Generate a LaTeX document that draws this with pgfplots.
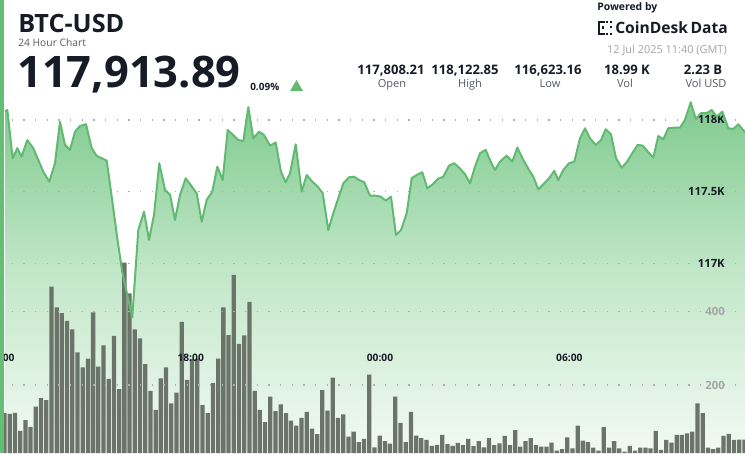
\documentclass[border=0pt]{standalone}
\usepackage{fontspec}
\setmainfont{Open Sans}
\usepackage{pgfplots}
\pgfplotsset{compat=1.18}
\usepackage{pgfplotstable}
\definecolor{linegreen}{RGB}{98,186,114}
\definecolor{areatop}{RGB}{128,202,143}
\definecolor{areamid}{RGB}{196,232,202}
\definecolor{areabot}{RGB}{242,250,243}
\definecolor{barcol}{RGB}{108,116,106}
\definecolor{txtdark}{RGB}{22,27,38}
\definecolor{txtgray}{RGB}{85,90,98}
\definecolor{txtlight}{RGB}{165,165,165}
\definecolor{gridcol}{RGB}{175,175,175}
\definecolor{bordergreen}{RGB}{100,190,115}

\pgfplotstableread{
k P
0.09 118058
0.53 118070
1.56 117733
2.45 117803
3.29 117744
4.37 117860
5.52 117803
6.48 117721
7.44 117639
8.59 117569
9.68 117698
10.64 117988
11.60 117826
12.56 117791
13.52 117918
14.48 117958
15.63 117970
16.73 117803
17.69 117749
18.65 117733
19.61 117716
20.60 117456
21.60 117184
22.60 116939
23.60 116772
24.52 116623
25.67 117232
26.77 117360
27.73 117163
28.69 117337
29.70 117698
30.80 117512
31.76 117477
32.72 117302
33.68 117477
34.77 117593
35.73 117546
36.88 117488
37.84 117290
38.80 117442
39.88 117500
40.84 117674
41.87 117581
42.83 117930
43.90 117895
44.87 117860
45.83 117853
46.79 118090
47.74 117872
48.84 117918
49.80 117895
50.95 117821
52.04 117842
53.06 117639
53.96 117565
54.79 117628
55.88 117830
57.03 117500
58.00 117616
58.95 117574
60.10 117535
61.07 117489
62.14 117232
63.10 117349
64.06 117454
65.02 117558
66.11 117600
67.07 117604
68.03 117581
69.05 117565
70.14 117472
71.10 117472
72.20 117465
73.16 117437
74.17 117465
75.13 117198
76.10 117232
77.19 117349
78.15 117593
79.11 117616
80.18 117635
81.14 117523
82.18 117551
83.14 117588
84.21 117604
85.31 117681
86.27 117698
87.28 117667
88.38 117621
89.34 117558
90.30 117674
91.26 117768
92.35 117791
93.31 117709
94.14 117651
95.10 117709
96.38 117751
97.46 117709
98.42 117807
99.57 117721
100.67 117651
101.49 117604
102.45 117516
103.60 117558
104.50 117593
105.52 117644
106.29 117581
107.25 117651
108.34 117698
109.36 117709
110.45 117872
111.41 117942
112.37 117872
113.47 117826
114.48 117860
115.38 117935
116.40 117900
117.36 117733
118.45 117667
119.41 117705
120.49 117768
121.52 117826
122.48 117821
123.56 117775
124.52 117737
125.48 117888
126.44 117865
127.40 117942
128.55 117946
129.64 117946
130.60 118000
131.70 118123
132.66 118007
133.67 118047
134.77 118047
135.73 118070
136.69 118023
137.77 118058
138.92 117942
139.88 117937
140.84 117970
142.12 117914
}\pricedata

\pgfplotstableread{
k v
0 124
1 121
2 124
3 75
4 104
5 86
6 141
7 164
8 159
9 468
10 412
11 396
12 375
13 352
14 289
15 248
16 272
17 398
18 250
19 308
20 217
21 334
22 189
23 534
24 450
25 352
26 327
27 257
28 184
29 132
30 218
31 248
32 150
33 179
34 372
35 214
36 271
37 272
38 145
39 123
40 205
41 272
42 412
43 336
44 500
45 312
46 335
47 427
48 184
49 132
50 99
51 168
52 129
53 147
54 123
55 103
56 89
57 110
58 127
59 81
60 66
61 186
62 130
63 220
64 110
65 120
66 59
67 73
68 44
69 53
70 228
71 30
72 62
73 47
74 40
75 168
76 97
77 44
78 127
79 62
80 55
81 50
82 34
83 37
84 64
85 39
86 34
87 42
88 36
89 53
90 33
91 47
92 30
93 55
94 36
95 41
96 61
97 36
98 77
99 32
100 47
101 55
102 36
103 32
104 32
105 43
106 21
107 25
108 57
109 27
110 89
111 48
112 44
113 29
114 21
115 85
116 29
117 47
118 27
119 18
120 34
121 21
122 29
123 29
124 27
125 75
126 23
127 50
128 43
129 64
130 64
131 68
132 73
133 150
134 123
135 29
136 25
137 29
138 61
139 67
140 50
141 51
142 51
}\voldata

\pgfplotsset{
  basechart/.style={
    scale only axis, width=558.75pt, height=339.75pt,
    at={(0pt,0pt)}, anchor=north west,
    xmin=-0.873, xmax=142.12,
    axis line style={draw=none},
    major tick length=0pt,
    scaled x ticks=false, scaled y ticks=false,
    grid style={gridcol, line width=0.9pt, dash pattern=on 0.9pt off 7.85pt},
  },
  pricechart/.style={basechart, ymin=115676, ymax=118837},
  volchart/.style={basechart, ymin=14.5, ymax=1250},
}

\begin{document}
\begin{tikzpicture}
\fill[white] (0pt,0pt) rectangle (558.75pt,-339.75pt);

% price area
\begin{axis}[pricechart, axis on top, xtick=\empty,
  ytick={117000,117500,118000}, yticklabels={117K,117.5K,118K},
  yticklabel pos=right, ymajorgrids,
  yticklabel style={anchor=east, xshift=-15pt, inner sep=0pt,
    font=\bfseries\fontsize{8.5}{10}\selectfont, text=txtdark}]
\addplot[draw=none, top color=areatop, bottom color=areabot, middle color=areamid]
  table[x=k,y=P]{\pricedata}
  -- (axis cs:142.12,115676) -- (axis cs:0.09,115676) -- cycle;
\end{axis}

% volume bars
\begin{axis}[volchart, axis on top, ybar, bar width=3.2pt,
  ytick={200,400}, yticklabel pos=right, ymajorgrids,
  /pgf/number format/assume math mode=true,
  yticklabel style={anchor=east, xshift=-15pt, inner sep=0pt,
    font=\bfseries\fontsize{8.5}{10}\selectfont, text=txtlight},
  xtick={-0.6,35.73,72.06,108.4}, xticklabels={12:00,18:00,00:00,06:00},
  xticklabel style={anchor=base, yshift=68.5pt, inner sep=0pt,
    font=\bfseries\fontsize{7.7}{9}\selectfont, text=txtdark}]
\addplot[fill=barcol, draw=none] table[x=k,y=v]{\voldata};
\end{axis}

% price line
\begin{axis}[pricechart, hide axis]
\addplot[linegreen, line width=1.5pt, line join=round] table[x=k,y=P]{\pricedata};
\end{axis}

\begin{scope}[x=0.75pt,y=-0.75pt]
\node[anchor=base west, inner sep=0pt, font=\bfseries\fontsize{18.9}{20}\selectfont, text=txtdark] at (18,33) {BTC-USD};
\node[anchor=base west, inner sep=0pt, font=\fontsize{7.7}{9}\selectfont, text=txtgray] at (18,47) {24 Hour Chart};
\node[anchor=base west, inner sep=0pt, font=\bfseries\fontsize{32.6}{34}\selectfont, text=txtdark] at (17,88) {117,913.89};
\node[anchor=base west, inner sep=0pt, font=\bfseries\fontsize{7.5}{9}\selectfont, text=txtdark] at (250,90) {0.09\%};
\fill[linegreen] (290,91) -- (303,91) -- (296.5,80) -- cycle;

\foreach \cx/\val/\cl/\lab in {391/117{,}808.21/392/Open, 465/118{,}122.85/470/High, 548/116{,}623.16/550/Low, 627/18.99 K/625/Vol, 703/2.23 B/706/Vol USD}{
  \node[anchor=base, inner sep=0pt, font=\bfseries\fontsize{9.8}{12}\selectfont, text=txtdark] at (\cx,74.5) {\val};
  \node[anchor=base, inner sep=0pt, font=\fontsize{8.3}{10}\selectfont, text=txtgray] at (\cl,88) {\lab};
}

\node[anchor=base west, inner sep=0pt, font=\bfseries\fontsize{7.8}{9}\selectfont, text=txtdark] at (597,11) {Powered by};
% logo icon
\draw[txtdark, line width=1.6pt] (605,22) -- (599,22) -- (599,34) -- (605,34);
\fill[txtdark] (601.5,26.5) rectangle (603.5,29.5);
\fill[txtdark] (606,21) rectangle (608,23);
\fill[txtdark] (610,21) rectangle (612,23);
\fill[txtdark] (606,33) rectangle (608,35);
\fill[txtdark] (610,33) rectangle (612,35);
\fill[txtdark] (610,26.5) rectangle (612,28.5);
\node[anchor=base west, inner sep=0pt, font=\bfseries\fontsize{11.7}{14}\selectfont, text=txtdark] at (615,33.5) {CoinDesk\,Data};
\node[anchor=base east, inner sep=0pt, font=\fontsize{8.2}{10}\selectfont, text=txtlight] at (727,53.5) {12 Jul 2025 11:40 (GMT)};
\end{scope}

\fill[bordergreen] (0pt,0pt) rectangle (3.3pt,-339.75pt);
\pgfresetboundingbox
\path[use as bounding box] (0pt,0pt) rectangle (558.75pt,-339.75pt);
\end{tikzpicture}
\end{document}
